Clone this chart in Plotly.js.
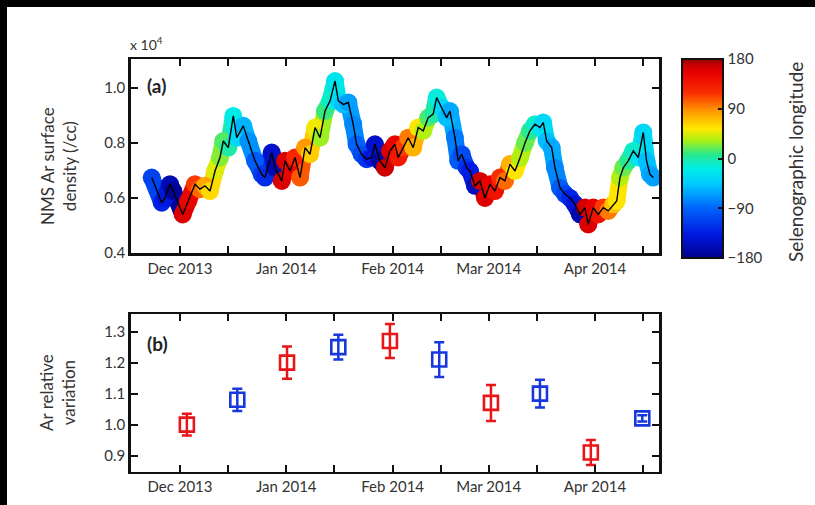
<!DOCTYPE html>
<html>
<head>
<meta charset="utf-8">
<script src="https://cdn.plot.ly/plotly-3.0.1.min.js"></script>
<style>html,body{margin:0;padding:0;background:#fff;}#chart{width:815px;height:505px;}</style>
</head>
<body>
<div id="chart"></div>
<script>
// Panel (a): NMS Ar surface density (x 10^4 /cc), coloured by selenographic longitude
const densityDates = ["2013-11-22 18:00","2013-11-25 16:00","2013-11-26 15:00","2013-11-28 02:00","2013-11-29 01:00","2013-12-01 19:00","2013-12-03 10:00","2013-12-05 09:00","2013-12-06 20:00","2013-12-08 07:00",
"2013-12-09 18:00","2013-12-11 05:00","2013-12-12 16:00","2013-12-13 15:00","2013-12-15 02:00","2013-12-16 13:00","2013-12-17 13:00","2013-12-19 11:00","2013-12-20 22:00","2013-12-22 21:00",
"2013-12-24 20:00","2013-12-25 19:00","2013-12-27 18:00","2013-12-28 17:00","2013-12-30 16:00","2013-12-31 15:00","2014-01-02 02:00","2014-01-03 13:00","2014-01-05 00:00","2014-01-06 11:00",
"2014-01-07 22:00","2014-01-09 09:00","2014-01-10 20:00","2014-01-12 07:00","2014-01-13 18:00","2014-01-15 05:00","2014-01-16 04:00","2014-01-17 15:00","2014-01-19 02:00","2014-01-20 12:00",
"2014-01-21 12:00","2014-01-22 23:00","2014-01-24 10:00","2014-01-25 21:00","2014-01-26 20:00","2014-01-28 07:00","2014-01-29 18:00","2014-01-31 05:00","2014-02-01 16:00","2014-02-02 15:00",
"2014-02-04 02:00","2014-02-05 13:00","2014-02-07 00:00","2014-02-08 11:00","2014-02-09 22:00","2014-02-11 09:00","2014-02-12 20:00","2014-02-13 20:00","2014-02-15 07:00","2014-02-16 18:00",
"2014-02-17 17:00","2014-02-19 04:00","2014-02-20 03:00","2014-02-21 03:00","2014-02-22 14:00","2014-02-23 13:00","2014-02-25 00:00","2014-02-26 11:00","2014-02-27 22:00","2014-03-01 09:00",
"2014-03-02 20:00","2014-03-04 07:00","2014-03-05 18:00","2014-03-07 05:00","2014-03-08 16:00","2014-03-10 03:00","2014-03-11 14:00","2014-03-13 01:00","2014-03-14 12:00","2014-03-15 23:00",
"2014-03-16 22:00","2014-03-17 22:00","2014-03-19 09:00","2014-03-20 08:00","2014-03-21 19:00","2014-03-23 06:00","2014-03-24 17:00","2014-03-26 04:00","2014-03-27 15:00","2014-03-29 02:00",
"2014-03-30 01:00","2014-03-31 12:00","2014-04-01 23:00","2014-04-03 10:00","2014-04-04 21:00","2014-04-06 08:00","2014-04-07 08:00","2014-04-08 07:00","2014-04-09 06:00","2014-04-10 17:00",
"2014-04-12 04:00","2014-04-13 15:00","2014-04-15 02:00","2014-04-16 01:00","2014-04-17 01:00","2014-04-18 00:00"];
const densityValues = [0.674,0.583,0.600,0.650,0.625,0.540,0.589,0.650,0.632,0.644,
0.625,0.698,0.747,0.807,0.783,0.898,0.819,0.862,0.807,0.735,
0.686,0.674,0.765,0.710,0.662,0.735,0.698,0.747,0.674,0.783,
0.759,0.856,0.819,0.916,0.953,1.025,0.953,0.940,0.947,0.868,
0.795,0.759,0.741,0.747,0.795,0.735,0.710,0.771,0.795,0.747,
0.783,0.819,0.783,0.856,0.844,0.892,0.905,0.965,0.928,0.892,
0.916,0.819,0.735,0.759,0.710,0.698,0.644,0.662,0.600,0.650,
0.625,0.674,0.662,0.723,0.698,0.745,0.800,0.844,0.868,0.856,
0.874,0.807,0.783,0.710,0.637,0.614,0.600,0.577,0.540,0.565,
0.504,0.565,0.540,0.565,0.553,0.577,0.589,0.674,0.710,0.735,
0.771,0.747,0.838,0.735,0.686,0.674];
const longitudes = [-110,-130,-140,-160,-175,160,150,115,100,80,
60,45,25,15,0,-20,-35,-55,-70,-95,
-115,-125,-150,-165,160,160,150,125,105,85,
65,50,30,10,-10,-25,-35,-50,-65,-75,
-90,-105,-120,-140,-150,-170,165,160,150,135,
115,95,75,55,35,15,0,-15,-35,-50,
-60,-80,-95,-105,-120,-135,-155,165,160,155,
140,120,100,75,55,35,20,5,-10,-25,
-35,-50,-60,-75,-95,-110,-130,-145,-165,165,
160,155,140,115,95,70,55,35,20,5,
-10,-25,-35,-50,-60,-65];

// Panel (b): Ar relative variation
const redDates = ["2013-12-03 00:00","2014-01-01 05:00","2014-01-31 05:00","2014-03-01 16:00","2014-03-30 19:00"];
const redValues = [1.00,1.20,1.27,1.07,0.91];
const redErrors = [0.035,0.052,0.055,0.058,0.040];
const blueDates = ["2013-12-17 17:00","2014-01-16 04:00","2014-02-14 14:00","2014-03-15 23:00","2014-04-14 19:00"];
const blueValues = [1.08,1.25,1.21,1.10,1.02];
const blueErrors = [0.036,0.040,0.056,0.045,0.010];

// Tick labels
const monthTickDates = ["2013-12-01","2014-01-01","2014-02-01","2014-03-01","2014-04-01"];
const monthTickLabels = ["Dec 2013","Jan 2014","Feb 2014","Mar 2014","Apr 2014"];
const midMonthTickDates = ["2013-12-15","2014-01-15","2014-02-15","2014-03-15","2014-04-15"];
const cbTickVals = [-180,-90,0,90,180];
const cbTickText = ["\u2212180","\u221290","0","90","180"];

const W = 815, H = 505;
const px = v => v / W;
const py = v => (H - v) / H;

const FONT = "Lato, 'Open Sans', sans-serif";
const TXT = "#333";
const RED = "rgb(232,22,24)";
const BLUE = "rgb(22,56,222)";

const jet = [[0,'rgb(0,0,140)'],[0.12,'rgb(0,25,225)'],[0.25,'rgb(0,100,250)'],[0.37,'rgb(0,200,255)'],[0.45,'rgb(0,238,230)'],[0.52,'rgb(40,232,140)'],[0.59,'rgb(170,240,20)'],[0.65,'rgb(255,232,0)'],[0.74,'rgb(255,150,0)'],[0.83,'rgb(250,45,0)'],[0.93,'rgb(232,0,0)'],[0.97,'rgb(200,0,0)'],[1,'rgb(140,0,0)']];

// colour of a longitude on the same jet scale (for the continuous halo segments)
function jetColor(lon) {
  const t = Math.max(0, Math.min(1, (lon + 180) / 360));
  for (let k = 1; k < jet.length; k++) {
    if (t <= jet[k][0]) {
      const a = jet[k-1], b = jet[k];
      const f = (t - a[0]) / (b[0] - a[0]);
      const ca = a[1].match(/\d+/g).map(Number), cb = b[1].match(/\d+/g).map(Number);
      const c = ca.map((v, j) => Math.round(v + (cb[j] - v) * f));
      return 'rgb(' + c.join(',') + ')';
    }
  }
  return jet[jet.length-1][1];
}

const HALO = 18;
const traces = [];
// halo segments
for (let i = 0; i < densityDates.length - 1; i++) {
  traces.push({
    x: [densityDates[i], densityDates[i+1]], y: [densityValues[i], densityValues[i+1]],
    type: 'scatter', mode: 'lines', xaxis: 'x', yaxis: 'y', hoverinfo: 'skip', showlegend: false,
    line: {color: jetColor(longitudes[i]), width: HALO - 1}
  });
}
traces.push({
  x: densityDates, y: densityValues, type: 'scatter', mode: 'markers',
  xaxis: 'x', yaxis: 'y', hoverinfo: 'skip', showlegend: false,
  marker: {
    size: HALO, color: longitudes, colorscale: jet, cmin: -180, cmax: 180,
    line: {width: 0},
    colorbar: {
      x: px(682), xanchor: 'left', y: py(59), yanchor: 'top',
      thickness: 41, thicknessmode: 'pixels', len: 199, lenmode: 'pixels',
      xpad: 0, ypad: 0, outlinewidth: 2, outlinecolor: '#111',
      tickmode: 'array', tickvals: cbTickVals, ticktext: cbTickText,
      ticks: 'inside', ticklen: 6, tickwidth: 2, tickcolor: '#111',
      tickfont: {family: FONT, size: 15, color: TXT}
    }
  }
});
traces.push({
  x: densityDates, y: densityValues, type: 'scatter', mode: 'lines',
  xaxis: 'x', yaxis: 'y', hoverinfo: 'skip', showlegend: false,
  line: {color: '#000', width: 1.4}
});
traces.push({
  x: redDates, y: redValues, type: 'scatter', mode: 'markers',
  xaxis: 'x2', yaxis: 'y2', showlegend: false,
  marker: {symbol: 'square-open', size: 14, color: RED, line: {width: 2.6, color: RED}},
  error_y: {type: 'data', array: redErrors, visible: true, color: RED, thickness: 2.5, width: 5}
});
traces.push({
  x: blueDates, y: blueValues, type: 'scatter', mode: 'markers',
  xaxis: 'x2', yaxis: 'y2', showlegend: false,
  marker: {symbol: 'square-open', size: 14, color: BLUE, line: {width: 2.6, color: BLUE}},
  error_y: {type: 'data', array: blueErrors, visible: true, color: BLUE, thickness: 2.5, width: 5}
});

const xRange = ["2013-11-16 15:00","2014-04-19 16:00"];
const axisCommon = {
  showline: true, linecolor: '#111', linewidth: 2.5, mirror: 'ticks',
  ticks: 'inside', ticklen: 7, tickwidth: 2, tickcolor: '#111',
  showgrid: false, zeroline: false, automargin: false,
  tickfont: {family: FONT, size: 15, color: TXT}
};
const xCommon = Object.assign({}, axisCommon, {
  domain: [px(130.7), px(659)], type: 'date', range: xRange,
  tickmode: 'array', tickvals: monthTickDates, ticktext: monthTickLabels,
  minor: {tickmode: 'array', tickvals: midMonthTickDates, ticks: 'inside', ticklen: 7, tickwidth: 2, tickcolor: '#111', showgrid: false}
});

const layout = {
  width: W, height: H,
  margin: {l: 0, r: 0, t: 0, b: 0},
  paper_bgcolor: '#fff', plot_bgcolor: '#fff',
  showlegend: false,
  font: {family: FONT, color: TXT},
  xaxis: Object.assign({}, xCommon, {anchor: 'y'}),
  yaxis: Object.assign({}, axisCommon, {
    domain: [py(253), py(59)], anchor: 'x', range: [0.4, 1.105],
    tickmode: 'array', tickvals: [0.4,0.6,0.8,1.0], ticktext: ['0.4','0.6','0.8','1.0']
  }),
  xaxis2: Object.assign({}, xCommon, {anchor: 'y2'}),
  yaxis2: Object.assign({}, axisCommon, {
    domain: [py(471.7), py(314.3)], anchor: 'x2', range: [0.848, 1.356],
    tickmode: 'array', tickvals: [0.9,1.0,1.1,1.2,1.3], ticktext: ['0.9','1.0','1.1','1.2','1.3']
  }),
  annotations: [
    {xref: 'paper', yref: 'paper', x: px(128), y: py(44), xanchor: 'left', yanchor: 'middle', showarrow: false,
     text: 'x 10<sup>4</sup>', font: {family: FONT, size: 14, color: TXT}},
    {xref: 'paper', yref: 'paper', x: px(145), y: py(85), xanchor: 'left', yanchor: 'middle', showarrow: false,
     text: '<b>(a)</b>', font: {family: FONT, size: 19, color: '#222'}},
    {xref: 'paper', yref: 'paper', x: px(145), y: py(344), xanchor: 'left', yanchor: 'middle', showarrow: false,
     text: '<b>(b)</b>', font: {family: FONT, size: 19, color: '#222'}},
    {xref: 'paper', yref: 'paper', x: px(59), y: py(166), xanchor: 'center', yanchor: 'middle', showarrow: false,
     textangle: -90, text: 'NMS Ar surface<br>density (/cc)', font: {family: FONT, size: 17, color: TXT}},
    {xref: 'paper', yref: 'paper', x: px(57), y: py(393), xanchor: 'center', yanchor: 'middle', showarrow: false,
     textangle: -90, text: 'Ar relative<br>variation', font: {family: FONT, size: 17, color: TXT}},
    {xref: 'paper', yref: 'paper', x: px(796), y: py(162), xanchor: 'center', yanchor: 'middle', showarrow: false,
     textangle: -90, text: 'Selenographic longitude', font: {family: FONT, size: 19, color: TXT}}
  ],
  shapes: [
    {type: 'rect', xref: 'paper', yref: 'paper', x0: 0, x1: px(7), y0: 0, y1: 1, fillcolor: '#000', line: {width: 0}, layer: 'above'},
    {type: 'rect', xref: 'paper', yref: 'paper', x0: 0, x1: 1, y0: py(7), y1: 1, fillcolor: '#000', line: {width: 0}, layer: 'above'}
  ]
};

Plotly.newPlot('chart', traces, layout, {staticPlot: true, displayModeBar: false});
</script>
</body>
</html>
